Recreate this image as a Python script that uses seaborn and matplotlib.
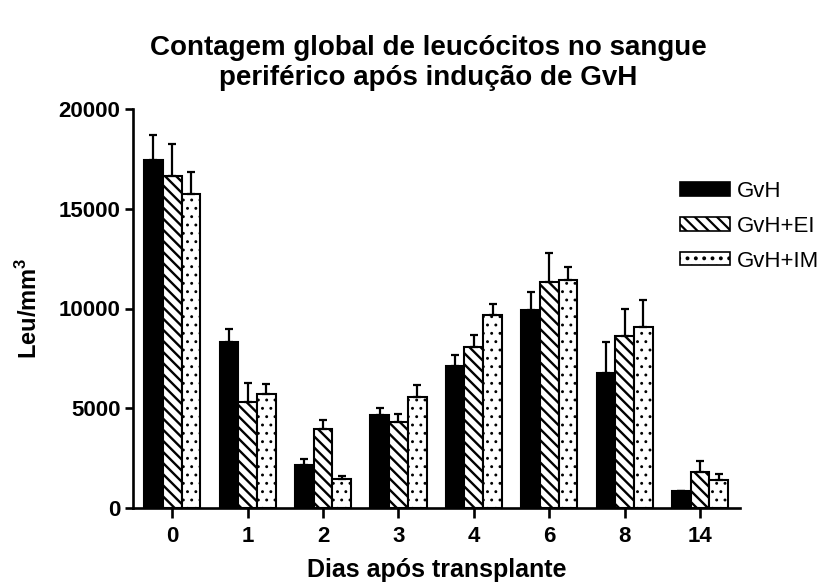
import numpy as np
import pandas as pd
import matplotlib
matplotlib.use("Agg")
import matplotlib.pyplot as plt
from matplotlib.patches import Patch
import seaborn as sns

days = ['0', '1', '2', '3', '4', '6', '8', '14']
groups = ['GvH', 'GvH+EI', 'GvH+IM']
gvh = [17450, 8330, 2140, 4660, 7120, 9940, 6770, 830]
gvh_err = [1270, 620, 330, 370, 570, 900, 1530, 0]
ei = [16660, 5330, 3970, 4330, 8050, 11340, 8640, 1780]
ei_err = [1600, 950, 450, 360, 630, 1450, 1330, 560]
im = [15750, 5690, 1450, 5560, 9680, 11430, 9050, 1420]
im_err = [1070, 520, 170, 620, 540, 670, 1390, 260]
yticks = [0, 5000, 10000, 15000, 20000]

title = "Contagem global de leucócitos no sangue\nperiférico após indução de GvH"
xlabel = "Dias após transplante"
ylabel = "Leu/mm$^{\\mathbf{3}}$"

means = {'GvH': gvh, 'GvH+EI': ei, 'GvH+IM': im}
errs = {'GvH': gvh_err, 'GvH+EI': ei_err, 'GvH+IM': im_err}

df = pd.DataFrame({
    'dia': np.repeat([days], 3, axis=0).ravel(),
    'grupo': np.repeat(groups, len(days)),
    'valor': gvh + ei + im,
})

sns.set_style('ticks')
plt.rcParams['font.family'] = ['Liberation Sans', 'DejaVu Sans']
plt.rcParams['hatch.linewidth'] = 1.6
plt.rcParams['mathtext.fontset'] = 'custom'
plt.rcParams['mathtext.bf'] = 'Liberation Sans:bold'
plt.rcParams['mathtext.rm'] = 'Liberation Sans:bold'
for k in ['text.color', 'axes.labelcolor', 'xtick.color', 'ytick.color', 'axes.edgecolor']:
    plt.rcParams[k] = 'black'

fig = plt.figure(figsize=(8.26, 5.85), dpi=100)
ax = fig.add_axes([133/826, 1 - 508/585, (740 - 133)/826, (508 - 109)/585])

colors = ['black', 'white', 'white']
hatches = [None, '\\\\\\', '..']
hatch_lw = [1.6, 1.7, 0.9]

sns.barplot(data=df, x='dia', y='valor', hue='grupo', order=days, hue_order=groups,
            palette=colors, errorbar=None, width=0.745, gap=0, edgecolor='black',
            linewidth=1.5, saturation=1, legend=False, ax=ax)

for cont, g, h, hl in zip(ax.containers, groups, hatches, hatch_lw):
    xs, ys = [], []
    for bar in cont:
        if h:
            bar.set_hatch(h)
            if hasattr(bar, 'set_hatch_linewidth'):
                bar.set_hatch_linewidth(hl)
        xs.append(bar.get_x() + bar.get_width() / 2)
        ys.append(bar.get_height())
    e = np.array(errs[g])
    ax.errorbar(xs, ys, yerr=[np.zeros_like(e), e], fmt='none', ecolor='black',
                elinewidth=1.6, capsize=3.2, capthick=1.6, zorder=1)

ax.set_ylim(0, 20000)
ax.set_xlim(-0.52, 7.53)
ax.set_yticks(yticks)
ax.set_yticklabels([str(v) for v in yticks])
sns.despine(ax=ax)
for s in ['left', 'bottom']:
    ax.spines[s].set_linewidth(1.9)
ax.tick_params(axis='both', width=1.9, labelsize=16)
ax.tick_params(axis='y', length=6, pad=3)
ax.tick_params(axis='x', length=7, pad=6)
for lab in ax.get_xticklabels() + ax.get_yticklabels():
    lab.set_fontweight('bold')

ax.set_xlabel(xlabel, fontsize=18, fontweight='bold', labelpad=8)
ax.set_ylabel(ylabel, fontsize=17, fontweight='bold', labelpad=12)
fig.text(0.5 + 15/826, 1 - 63/585, title, ha='center', va='center', fontsize=20,
         fontweight='bold', linespacing=1.2)

handles = []
for c, h, g, hl in zip(colors, hatches, groups, hatch_lw):
    p = Patch(facecolor=c, edgecolor='black', hatch=h, linewidth=1.2, label=g)
    if h and hasattr(p, 'set_hatch_linewidth'):
        p.set_hatch_linewidth(hl)
    handles.append(p)
ax.legend(handles=handles, loc='upper left', bbox_to_anchor=(680/826, 1 - 181/585),
          bbox_transform=fig.transFigure, frameon=False, fontsize=16,
          handlelength=2.25, handleheight=0.55, handletextpad=0.3, labelspacing=0.62,
          borderpad=0, borderaxespad=0)

fig.savefig('out.png', dpi=100)
